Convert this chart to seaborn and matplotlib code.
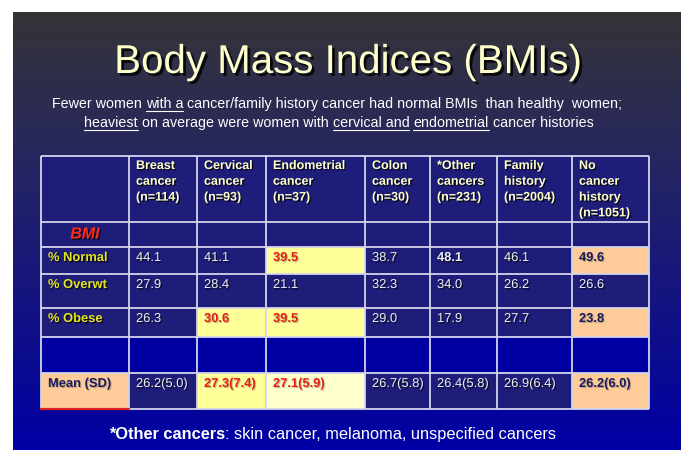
import numpy as np
import matplotlib
matplotlib.use("Agg")
import matplotlib.pyplot as plt
import matplotlib.patheffects as pe
from matplotlib.colors import ListedColormap
import seaborn as sns

# ---- data ----
groups = ["Breast\ncancer", "Cervical\ncancer", "Endometrial\ncancer", "Colon\ncancer",
          "*Other\ncancers", "Family\nhistory", "No\ncancer\nhistory"]
group_n = [114, 93, 37, 30, 231, 2004, 1051]
row_labels = ["% Normal", "% Overwt", "% Obese"]
pct_normal = [44.1, 41.1, 39.5, 38.7, 48.1, 46.1, 49.6]
pct_overwt = [27.9, 28.4, 21.1, 32.3, 34.0, 26.2, 26.6]
pct_obese = [26.3, 30.6, 39.5, 29.0, 17.9, 27.7, 23.8]
bmi_mean = [26.2, 27.3, 27.1, 26.7, 26.4, 26.9, 26.2]
bmi_sd = [5.0, 7.4, 5.9, 5.8, 5.8, 6.4, 6.0]

# which cells are highlighted (0 none, 2 yellow, 3 pale yellow, 4 peach)
hl_normal = [0, 0, 2, 0, 0, 0, 4]
hl_obese = [0, 2, 2, 0, 0, 0, 4]
hl_mean = [0, 2, 3, 0, 0, 0, 4]

sns.set_theme(style="white")
plt.rcParams["font.family"] = ["Liberation Sans", "DejaVu Sans"]

W, H = 685, 450
fig = plt.figure(figsize=(W / 100, H / 100), dpi=100, facecolor="white")

# background slide with vertical gradient
bg = fig.add_axes([0, 0, 1, 1])
bg.set_axis_off()
ys = np.linspace(0, 1, 256)
stops_y = [0.0, 0.3, 1.0]
stops_c = np.array([[52, 52, 55], [40, 40, 92], [0, 0, 165]]) / 255
grad = np.stack([np.interp(ys, stops_y, stops_c[:, k]) for k in range(3)], axis=-1)[:, None, :]
bg.imshow(grad, extent=[13, 681, 450, 12], aspect="auto", zorder=0)
bg.set_xlim(0, W)
bg.set_ylim(H, 0)

shadow = [pe.withSimplePatchShadow(offset=(1, -1), shadow_rgbFace="black", alpha=0.7)]
soft_shadow = [pe.withSimplePatchShadow(offset=(0.8, -0.8), shadow_rgbFace="#555555", alpha=0.35)]

# title
bg.text(348, 62, "Body Mass Indices (BMIs)", ha="center", va="center", fontsize=29,
        color="#FFFFCC", path_effects=[pe.withSimplePatchShadow(offset=(2, -2), shadow_rgbFace="black", alpha=0.8)])

renderer = fig.canvas.get_renderer()


def text_w(s, **kw):
    t = bg.text(0, 0, s + "x", **kw)
    w1 = t.get_window_extent(renderer).width
    t.remove()
    t = bg.text(0, 0, "x", **kw)
    w2 = t.get_window_extent(renderer).width
    t.remove()
    return w1 - w2


def piece_line(pieces, cx, y, **kw):
    full = "".join(p[0] for p in pieces)
    total = text_w(full, **kw)
    x = cx - total / 2
    for s, under, extra in pieces:
        style = dict(kw)
        style.update(extra)
        w = text_w(s, **style)
        bg.text(x, y, s, ha="left", va="baseline", **style)
        if under:
            bg.plot([x, x + w], [y + 2.5, y + 2.5], color=style.get("color", "white"), lw=0.8)
        x += w


sub = dict(fontsize=10.3, color="white")
piece_line([("Fewer women ", False, {}), ("with a", True, {}),
            (" cancer/family history cancer had normal BMIs  than healthy  women;", False, {})],
           337, 108, **sub)
piece_line([("heaviest", True, {}), (" on average were women with ", False, {}),
            ("cervical and", True, {}), (" ", False, {}), ("endometrial", True, {}),
            (" cancer histories", False, {})],
           339, 127, **sub)

piece_line([("*Other cancers", False, {"fontweight": "bold"}),
            (": skin cancer, melanoma, unspecified cancers", False, {})],
           329, 439, fontsize=11.8, color="white")

# ---- table ----
col_w = [88, 68, 69, 99, 65, 67, 75, 77]
row_h = [66, 25, 27, 34, 29, 36, 36]
tx0, ty0 = 41, 156
tab = fig.add_axes([tx0 / W, 1 - (ty0 + sum(row_h)) / H, sum(col_w) / W, sum(row_h) / H])

codes = np.zeros((7, 8), dtype=int)
codes[2, 1:] = hl_normal
codes[4, 1:] = hl_obese
codes[5, :] = 1
codes[6, 0] = 4
codes[6, 1:] = hl_mean
grid = np.repeat(np.repeat(codes, row_h, axis=0), col_w, axis=1)
cell_cols = ["#1E1E7A", "#0000A2", "#FFFF99", "#FFFFCC", "#FFCC99"]
sns.heatmap(grid, cmap=ListedColormap(cell_cols), vmin=-0.5, vmax=4.5, cbar=False,
            xticklabels=False, yticklabels=False, ax=tab)
tab.set_axis_off()

xe = np.concatenate([[0], np.cumsum(col_w)])
ye = np.concatenate([[0], np.cumsum(row_h)])
line_c = "#D4D4EC"
tab.hlines(ye, 0, xe[-1], color=line_c, lw=1.3, clip_on=False)
tab.vlines(xe, 0, ye[-1], color=line_c, lw=1.3, clip_on=False)
tab.plot([0, xe[1]], [ye[-1], ye[-1]], color="#E02020", lw=1.6, clip_on=False)

# header cells
for j, (g, n) in enumerate(zip(groups, group_n)):
    tab.text(xe[j + 1] + 7, 4, f"{g}\n(n={n})", ha="left", va="top", fontsize=9,
             fontweight="bold", color="#FFFFCC", linespacing=1.42, path_effects=shadow)

tab.text(xe[1] / 2, ye[1] + 12, "BMI", ha="center", va="center", fontsize=11.5,
         fontweight="bold", fontstyle="italic", color="#FF2A1A", path_effects=shadow)

txt_cols = {0: "#ECECF4", 1: "#ECECF4", 2: "#E41E14", 3: "#E41E14", 4: "#1A1A5E"}
rows = [(2, row_labels[0], [f"{v:.1f}" for v in pct_normal]),
        (3, row_labels[1], [f"{v:.1f}" for v in pct_overwt]),
        (4, row_labels[2], [f"{v:.1f}" for v in pct_obese]),
        (6, "Mean (SD)", [f"{m:.1f}({s:.1f})" for m, s in zip(bmi_mean, bmi_sd)])]
for r, lab, vals in rows:
    yy = ye[r] + 11
    on_peach = codes[r, 0] == 4
    tab.text(7, yy, lab, ha="left", va="center", fontsize=9.3, fontweight="bold",
             color="#1A1A5E" if on_peach else "#E4E41C",
             path_effects=soft_shadow if on_peach else shadow)
    for j, v in enumerate(vals):
        c = codes[r, j + 1]
        bold = c != 0 or v == "48.1"
        tab.text(xe[j + 1] + 7, yy, v, ha="left", va="center", fontsize=9.3,
                 fontweight="bold" if bold else "normal", color=txt_cols[c],
                 path_effects=shadow if c < 2 else soft_shadow)

fig.savefig("out.png", dpi=100, facecolor="white")
